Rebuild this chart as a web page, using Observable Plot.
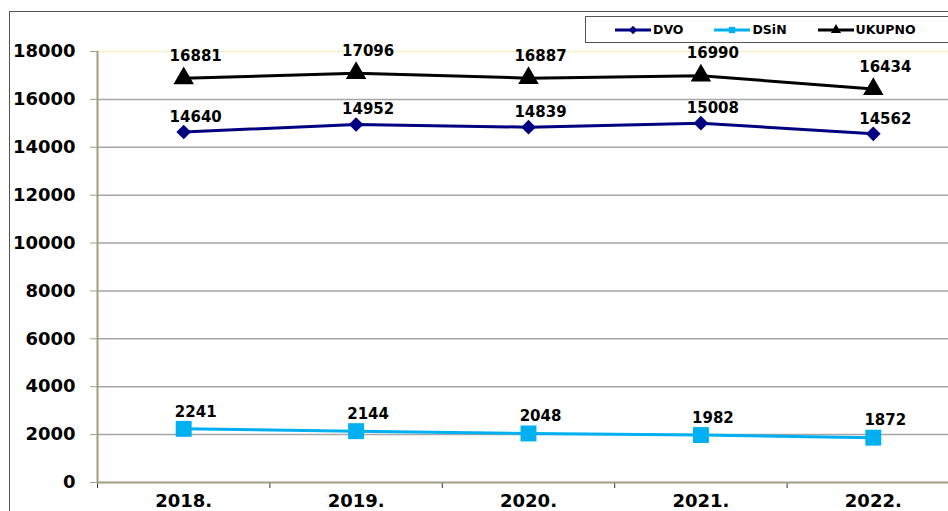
<!DOCTYPE html>
<html><head><meta charset="utf-8">
<script src="https://cdn.jsdelivr.net/npm/d3@7"></script>
<script src="https://cdn.jsdelivr.net/npm/@observablehq/plot@0.6"></script>
<style>
body{margin:0;background:#fff;overflow:hidden;}
#wrap{position:relative;width:948px;height:511px;overflow:hidden;font-family:"DejaVu Sans",sans-serif;}
#chart{position:absolute;left:0;top:0;width:960px;}
#chart svg{max-width:none !important;}
#frame{position:absolute;left:9px;top:11px;width:960px;height:520px;border-top:1.5px solid #555;border-left:1.5px solid #555;pointer-events:none;}
#legend{position:absolute;left:585px;top:16px;width:380px;height:27px;border:1px solid #555;background:#fff;display:flex;align-items:center;gap:30px;padding-left:28px;box-sizing:border-box;}
.item{display:flex;align-items:center;font-weight:bold;font-size:12.5px;color:#000;}
.item svg{margin-right:1px;}
</style></head><body>
<div id="wrap"><div id="chart"></div><div id="frame"></div><div id="legend"></div></div>
<script>
const years = [2018, 2019, 2020, 2021, 2022];
const dvo = [14640, 14952, 14839, 15008, 14562];
const dsin = [2241, 2144, 2048, 1982, 1872];
const ukupno = [16881, 17096, 16887, 16990, 16434];
const seriesNames = ["DVO", "DSiN", "UKUPNO"];
const seriesValues = [dvo, dsin, ukupno];
const seriesColors = ["#000080", "#00b0f0", "#000000"];
const yTicks = [0, 2000, 4000, 6000, 8000, 10000, 12000, 14000, 16000, 18000];

const symbols = {DVO: "diamond2", DSiN: "square", UKUPNO: "triangle"};
const radius = {DVO: 6.6, DSiN: 9, UKUPNO: 7.6};
const labelDy = {DVO: -15, DSiN: -17, UKUPNO: -22};
const olive = "#a39e83";

const rows = seriesNames.flatMap((s, i) => years.map((y, j) => ({series: s, year: y, value: seriesValues[i][j]})));
const bounds = years.map(y => y - 0.5).concat([years[years.length - 1] + 0.5]);

const marks = [
  Plot.ruleY(yTicks.filter(t => t > 0 && t < 18000), {stroke: "#a6a6a6", strokeWidth: 1.5}),
  Plot.ruleY([18000], {stroke: "#f3f1c6", strokeWidth: 1.5}),
  Plot.axisY({ticks: yTicks, tickSize: 7, tickPadding: 15, stroke: olive, fontSize: 18, label: null, tickFormat: d => String(d)}),
  Plot.axisX({ticks: bounds, tickSize: 6, tickFormat: () => "", stroke: "#333", label: null}),
  Plot.axisX({ticks: years, tickSize: 0, tickPadding: 12, fontSize: 18, tickFormat: d => d + ".", label: null}),
  Plot.ruleY([0], {stroke: olive, strokeWidth: 2}),
  Plot.ruleX([years[0] - 0.5], {stroke: olive, strokeWidth: 2}),
  Plot.line(rows, {x: "year", y: "value", z: "series", stroke: "series", strokeWidth: 3})
];
for (const s of seriesNames) {
  const sub = rows.filter(d => d.series === s);
  marks.push(Plot.dot(sub, {x: "year", y: "value", symbol: () => symbols[s], fill: "series", r: radius[s]}));
  marks.push(Plot.text(sub, {x: "year", y: "value", text: d => String(d.value), dy: labelDy[s], dx: 12, fontSize: 15, fontWeight: "bold", fill: "#000"}));
}

const chart = Plot.plot({
  width: 960, height: 511,
  marginLeft: 97, marginRight: 1, marginTop: 51, marginBottom: 29,
  style: {fontFamily: "DejaVu Sans", fontWeight: "bold", color: "#000", background: "transparent", maxWidth: "none"},
  x: {type: "linear", domain: [years[0] - 0.5, years[years.length - 1] + 0.5]},
  y: {domain: [0, 18000]},
  color: {domain: seriesNames, range: seriesColors},
  symbol: {type: "identity"},
  marks
});
document.getElementById("chart").appendChild(chart);

// legend
const leg = document.getElementById("legend");
seriesNames.forEach((s, i) => {
  const item = document.createElement("div");
  item.className = "item";
  const sym = d3.symbol().type(s === "DVO" ? d3.symbolDiamond2 : s === "DSiN" ? d3.symbolSquare : d3.symbolTriangle).size(s === "DSiN" ? 40 : 45)();
  item.innerHTML = `<svg width="38" height="12"><line x1="1" x2="37" y1="6" y2="6" stroke="${seriesColors[i]}" stroke-width="3"/><path d="${sym}" transform="translate(19,6)" fill="${seriesColors[i]}"/></svg><span>${s}</span>`;
  leg.appendChild(item);
});
</script>
</body></html>
